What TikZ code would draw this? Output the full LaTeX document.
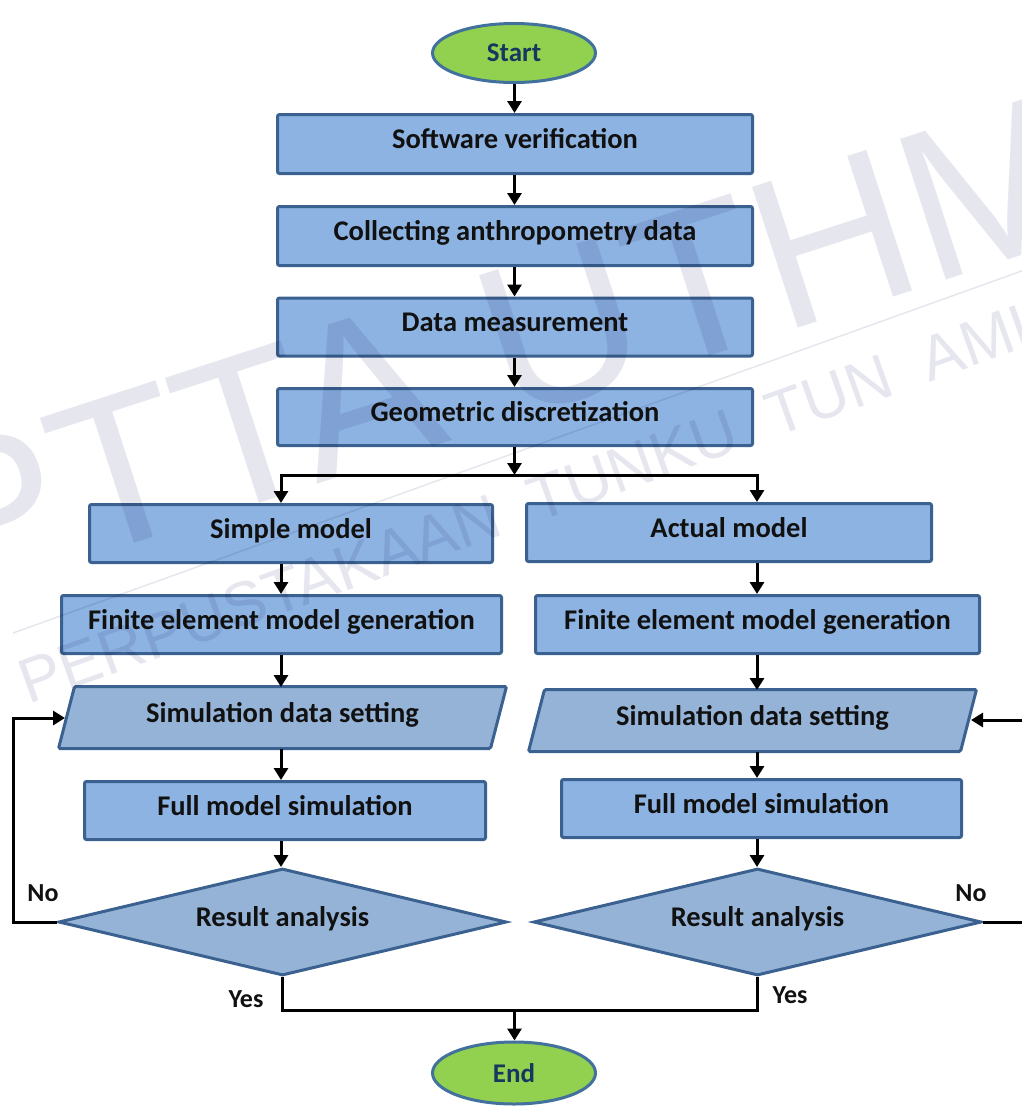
\documentclass[tikz,border=0pt]{standalone}
\usepackage{fontspec}
\setmainfont{Carlito}
\newfontfamily\wmfont{Liberation Sans}
\usetikzlibrary{arrows.meta,shapes.geometric}
\pgfdeclarelayer{background}
\pgfsetlayers{background,main}
\definecolor{boxfill}{HTML}{8DB3E2}
\definecolor{boxdraw}{HTML}{3B6190}
\definecolor{iofill}{HTML}{95B3D7}
\definecolor{termfill}{HTML}{92D050}
\definecolor{termtext}{HTML}{17375E}
\definecolor{termdraw}{HTML}{41719C}
\definecolor{txt}{HTML}{111111}
\definecolor{wm}{HTML}{E6E6EF}
\begin{document}
\begin{tikzpicture}[x=1pt,y=-1pt,
  lbltext/.style={font=\fontsize{28.5}{30}\selectfont\bfseries, text=txt, text height=1.05em, text depth=0.1em},
  proc/.style={rectangle, rounded corners=2pt, draw=boxdraw, fill=boxfill, line width=3pt, inner sep=0pt, lbltext},
  iotext/.style={rectangle, inner sep=0pt, outer sep=0pt, minimum width=432, minimum height=62, lbltext},
  io/.style={draw=boxdraw, fill=iofill, line width=3pt, rounded corners=1.5pt},
  dec/.style={diamond, aspect=4.2, minimum width=448, minimum height=107, inner sep=0pt, draw=boxdraw, fill=iofill, line width=3pt, lbltext},
  term/.style={ellipse, draw=termdraw, fill=termfill, line width=3pt, inner sep=0pt, minimum width=163, minimum height=59, font=\fontsize{27}{29}\selectfont\bfseries, text=termtext},
  yn/.style={font=\fontsize{26}{28}\selectfont\bfseries, text=txt, inner sep=0pt},
  conn/.style={line width=3pt, draw=black},
  arr/.style={conn, -{Triangle[width=14pt,length=12pt]}},
  wmtext/.style={text=wm, inner sep=0pt}
]
\useasboundingbox (0,0) rectangle (1022,1106);

% column coordinates
\coordinate (colM) at (514.5,0);
\coordinate (colL) at (281,0);
\coordinate (colR) at (757,0);

% nodes
\node[term] (start) at (514,53) {Start};
\node[proc, minimum width=475, minimum height=59] (sv) at (515,144) {Software verification};
\node[proc, minimum width=475, minimum height=59] (cad) at (515,236) {Collecting anthropometry data};
\node[proc, minimum width=475, minimum height=58] (dm) at (515,327) {Data measurement};
\node[proc, minimum width=475, minimum height=57] (gd) at (515,417) {Geometric discretization};

\node[proc, minimum width=403, minimum height=58] (simple) at (291,533.5) {Simple model};
\node[proc, minimum width=405, minimum height=58] (actual) at (729,532.5) {Actual model};
\node[proc, minimum width=440, minimum height=58] (feL) at (281.5,624.5) {Finite element model generation};
\node[proc, minimum width=444, minimum height=58] (feR) at (757.5,624.5) {Finite element model generation};

\node[iotext] (simL) at (282.5,718) {Simulation data setting};
\node[iotext] (simR) at (752.5,721) {Simulation data setting};
\begin{pgfonlayer}{background}
\draw[io] ([xshift=8pt,yshift=0.5pt]simL.north west) -- ([xshift=8pt,yshift=0.5pt]simL.north east) -- ([xshift=-8pt,yshift=0.5pt]simL.south east) -- ([xshift=-8pt,yshift=0.5pt]simL.south west) -- cycle;
\draw[io] ([xshift=8pt,yshift=0.5pt]simR.north west) -- ([xshift=8pt,yshift=0.5pt]simR.north east) -- ([xshift=-8pt,yshift=0.5pt]simR.south east) -- ([xshift=-8pt,yshift=0.5pt]simR.south west) -- cycle;
\end{pgfonlayer}

\node[proc, minimum width=401, minimum height=58] (fmsL) at (285,810.5) {Full model simulation};
\node[proc, minimum width=400, minimum height=58] (fmsR) at (761.5,808.5) {Full model simulation};

\node[dec] (diaL) at (282.5,922) {Result analysis};
\node[dec] (diaR) at (757.5,922) {Result analysis};

\node[term, minimum height=62] (end) at (514,1073) {End};

% labels
\node[yn] (noL) at (43,893) {No};
\node[yn] (noR) at (971,893) {No};
\node[yn] (yesL) at (246,999) {Yes};
\node[yn] (yesR) at (790,995) {Yes};

% main column
\draw[arr] (colM |- start.south) -- (colM |- sv.north);
\draw[arr] (colM |- sv.south) -- (colM |- cad.north);
\draw[arr] (colM |- cad.south) -- (colM |- dm.north);
\draw[arr] (colM |- dm.south) -- (colM |- gd.north);
\coordinate (split) at (514.5,475);
\draw[arr] (colM |- gd.south) -- (split);
\draw[arr] (split) -| (colL |- simple.north);
\draw[arr] (split) -| (colR |- actual.north);

% left branch
\draw[arr] (colL |- simple.south) -- (colL |- feL.north);
\draw[arr] (colL |- feL.south) -- (colL |- simL.north);
\draw[arr] (colL |- simL.south) -- (colL |- fmsL.north);
\draw[arr] (colL |- fmsL.south) -- (colL |- diaL.north);

% right branch
\draw[arr] (colR |- actual.south) -- (colR |- feR.north);
\draw[arr] (colR |- feR.south) -- (colR |- simR.north);
\draw[arr] (colR |- simR.south) -- (colR |- fmsR.north);
\draw[arr] (colR |- fmsR.south) -- (colR |- diaR.north);

% feedback loops
\coordinate (fbL) at (13,0);
\coordinate (simLin) at (65,718);
\draw[arr] (diaL.west) -- (fbL |- diaL.west) |- (simLin);
\coordinate (fbR) at (1034,0);
\coordinate (simRin) at (971,720);
\draw[arr] (diaR.east) -- (fbR |- diaR.east) |- (simRin);

% merge to end
\coordinate (merge) at (514.5,1010);
\draw[conn] (diaL.south) |- (merge) -| (diaR.south);
\draw[arr] (merge) -- (merge |- end.north);

% watermark
\begin{scope}[blend mode=multiply]
\node[wmtext, font=\wmfont\fontsize{215}{215}\selectfont, rotate=18, anchor=base west] (wm1) at (-55,605) {PTTA UTHM};
\node[wmtext, font=\wmfont\fontsize{63}{63}\selectfont, rotate=19.7, anchor=base west] (wm2) at (28,705) {PERPUSTAKAAN\hspace{35pt}TUNKU\hspace{35pt}TUN\hspace{35pt}AMINAH};
\coordinate (wmla) at (13,633);
\coordinate (wmlb) at (1030,268);
\draw[draw=wm, line width=1.5pt] (wmla) -- (wmlb);
\end{scope}
\end{tikzpicture}
\end{document}
